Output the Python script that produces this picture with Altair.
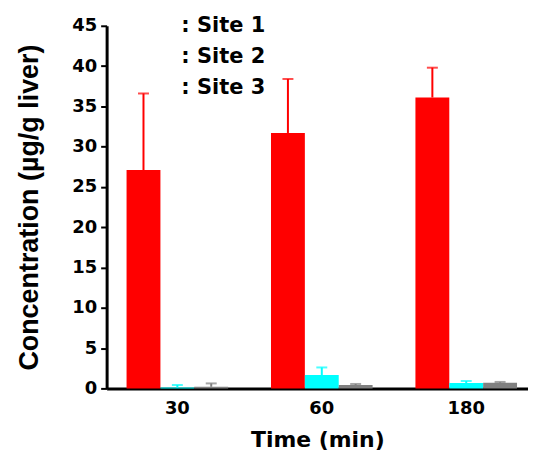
import altair as alt
import pandas as pd

times = ["30", "60", "180"]
sites = ["Site 1", "Site 2", "Site 3"]
site1_mean = [27.1, 31.7, 36.1]
site1_upper = [36.6, 38.4, 39.8]
site2_mean = [0.1, 1.65, 0.67]
site2_upper = [0.42, 2.6, 0.92]
site3_mean = [0.2, 0.42, 0.7]
site3_upper = [0.62, 0.55, 0.8]
colors = ["#FF0000", "#00FFFF", "#808080"]

rows = []
for s, means, uppers in zip(sites, [site1_mean, site2_mean, site3_mean],
                            [site1_upper, site2_upper, site3_upper]):
    for t, m, u in zip(times, means, uppers):
        rows.append({"time": t, "site": s, "mean": m, "upper": u})
df = pd.DataFrame(rows)

HFONT = "DejaVu Sans"
VFONT = "Liberation Sans"

x = alt.X("time:N", sort=times, title="Time (min)",
          scale=alt.Scale(paddingInner=0.2966, paddingOuter=0.107, align=0.645),
          axis=alt.Axis(labelAngle=0, labelFont=HFONT, labelFontSize=18,
                        labelFontWeight="bold", labelColor="black", labelPadding=11,
                        ticks=False, domainWidth=3, domainColor="black",
                        titleFont=HFONT, titleFontSize=22, titleFontWeight="bold",
                        titleColor="black", titlePadding=12))
xo = alt.XOffset("site:N", sort=sites, scale=alt.Scale(paddingInner=0, paddingOuter=0))
color = alt.Color("site:N", sort=sites, scale=alt.Scale(domain=sites, range=colors),
                  legend=alt.Legend(title=None, orient="none", legendX=54, legendY=-10,
                                    symbolOpacity=0, symbolSize=1, symbolStrokeWidth=0,
                                    labelOffset=0, labelFont=HFONT, labelFontSize=21,
                                    labelFontWeight="bold", labelColor="black",
                                    rowPadding=9,
                                    labelExpr="':\u00a0' + datum.label"))

base = alt.Chart(df)

bars = base.mark_bar().encode(
    x=x, xOffset=xo,
    y=alt.Y("mean:Q", title="Concentration (µg/g liver)",
            scale=alt.Scale(domain=[0, 45], nice=False),
            axis=alt.Axis(values=list(range(0, 50, 5)), grid=False,
                          labelFont=HFONT, labelFontSize=18, labelFontWeight="bold",
                          labelColor="black", tickSize=6, tickWidth=2,
                          tickColor="black", domainWidth=3, domainColor="black",
                          labelPadding=4,
                          titleFont=VFONT, titleFontSize=27, titleFontWeight="bold",
                          titleColor="black", titlePadding=28)),
    color=color,
)

rules = base.mark_rule(strokeWidth=2).encode(
    x=x, xOffset=xo, y="mean:Q", y2="upper:Q", color=color,
)

caps = base.mark_tick(thickness=2, size=11, orient="horizontal").encode(
    x=x, xOffset=xo, y="upper:Q", color=color,
)

chart = alt.layer(rules, bars, caps).properties(
    width=423, height=364,
    autosize=alt.AutoSizeParams(type="none"),
    padding={"left": 99, "top": 17, "right": 0, "bottom": 66},
).configure_view(stroke=None)

chart.save("out.html", embed_options={"renderer": "svg", "actions": False})
